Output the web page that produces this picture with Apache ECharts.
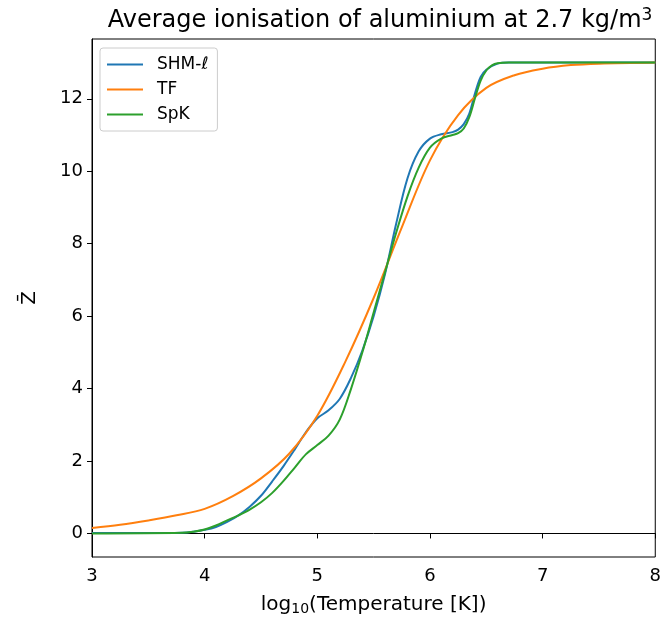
<!DOCTYPE html>
<html>
<head>
<meta charset="utf-8">
<script src="https://cdn.jsdelivr.net/npm/echarts@6/dist/echarts.min.js"></script>
<style>html,body{margin:0;padding:0;background:#fff}#c{width:664px;height:621px}</style>
</head>
<body>
<div id="c"></div>
<script>
const titleText = 'Average ionisation of aluminium at 2.7 kg/m{sup|3}';
const xLabel = 'log{sub|10}(Temperature [K])';
const yLabel = 'Z̄';
const seriesNames = ['SHM-ℓ', 'TF', 'SpK'];
const xTicks = [3, 4, 5, 6, 7, 8];
const yTicks = [0, 2, 4, 6, 8, 10, 12];

const shmX = [3.0, 3.5, 3.8, 3.9, 4.0, 4.1, 4.2, 4.3, 4.4, 4.5, 4.6, 4.7, 4.8, 4.9, 5.0, 5.1, 5.2, 5.3, 5.4, 5.5, 5.6, 5.7, 5.8, 5.9, 6.0, 6.1, 6.2, 6.25, 6.3, 6.35, 6.4, 6.45, 6.5, 6.6, 6.7, 7.0, 8.0];
const shmY = [0.01, 0.01, 0.02, 0.05, 0.1, 0.18, 0.32, 0.5, 0.74, 1.04, 1.44, 1.86, 2.32, 2.8, 3.18, 3.4, 3.72, 4.3, 5.05, 6.0, 7.15, 8.55, 9.8, 10.55, 10.9, 11.02, 11.08, 11.15, 11.3, 11.6, 12.15, 12.6, 12.8, 12.97, 13.0, 13.0, 13.0];

const tfX = [3.0, 3.25, 3.5, 3.75, 4.0, 4.25, 4.5, 4.75, 5.0, 5.25, 5.5, 5.75, 6.0, 6.25, 6.5, 6.75, 7.0, 7.25, 7.5, 8.0];
const tfY = [0.15, 0.24, 0.36, 0.5, 0.68, 1.03, 1.52, 2.2, 3.25, 4.75, 6.5, 8.45, 10.3, 11.55, 12.3, 12.65, 12.83, 12.93, 12.97, 13.0];

const spkX = [3.0, 3.8, 3.9, 4.0, 4.1, 4.2, 4.3, 4.4, 4.5, 4.6, 4.7, 4.8, 4.9, 5.0, 5.1, 5.2, 5.3, 5.4, 5.5, 5.6, 5.7, 5.8, 5.9, 6.0, 6.1, 6.2, 6.25, 6.3, 6.35, 6.4, 6.45, 6.5, 6.55, 6.6, 6.7, 7.0, 8.0];
const spkY = [0.0, 0.02, 0.05, 0.11, 0.22, 0.36, 0.5, 0.66, 0.86, 1.12, 1.45, 1.82, 2.19, 2.44, 2.7, 3.15, 4.0, 5.0, 6.1, 7.2, 8.3, 9.3, 10.1, 10.65, 10.9, 11.0, 11.05, 11.18, 11.5, 12.02, 12.5, 12.78, 12.92, 12.98, 13.0, 13.0, 13.0];

const colors = ['#1f77b4', '#ff7f0e', '#2ca02c'];
const zip = (xs, ys) => xs.map((x, i) => [x, ys[i]]);
const FONT = 'DejaVu Sans';

const chart = echarts.init(document.getElementById('c'), null, {renderer: 'canvas'});
const mkSeries = (name, xs, ys, color) => ({
  name, type: 'line', data: zip(xs, ys), showSymbol: false, smooth: 0.35,
  lineStyle: {color, width: 2}, itemStyle: {color}, z: 2
});
chart.setOption({
  animation: false,
  backgroundColor: '#fff',
  title: {
    text: titleText, left: 375, top: 2, textAlign: 'center',
    textStyle: {
      fontFamily: FONT, fontSize: 24, fontWeight: 'normal', color: '#000',
      rich: {sup: {fontFamily: FONT, fontSize: 17, color: '#000', padding: [0, 0, 10, 0]}}
    }
  },
  grid: {left: 92, right: 6, top: 39, bottom: 62, show: true, borderColor: '#000', borderWidth: 1, backgroundColor: 'transparent'},
  legend: {
    orient: 'vertical', left: 100, top: 48, padding: [8, 9, 8, 7], itemGap: 8,
    itemWidth: 36, itemHeight: 2, icon: 'rect',
    backgroundColor: '#fff', borderColor: '#cccccc', borderWidth: 1, borderRadius: 3,
    textStyle: {fontFamily: FONT, fontSize: 17, color: '#000', padding: [0, 0, 0, 9]},
    data: seriesNames
  },
  xAxis: {
    type: 'value', min: 3, max: 8, interval: 1,
    name: xLabel, nameLocation: 'middle', nameGap: 37,
    nameTextStyle: {
      fontFamily: FONT, fontSize: 20, color: '#000',
      rich: {sub: {fontFamily: FONT, fontSize: 14, color: '#000', padding: [8, 0, 0, 0]}}
    },
    axisLine: {show: true, lineStyle: {color: '#000', width: 1}},
    axisTick: {show: true, length: 5, lineStyle: {color: '#000'}},
    axisLabel: {fontFamily: FONT, fontSize: 18, color: '#000', margin: 10, formatter: v => xTicks.includes(v) ? String(v) : ''},
    splitLine: {show: false}
  },
  yAxis: {
    type: 'value', min: -0.65, max: 13.65,
    name: yLabel, nameLocation: 'middle', nameGap: 52, nameRotate: 90,
    nameTextStyle: {fontFamily: FONT, fontSize: 20, color: '#000'},
    axisLine: {show: true, lineStyle: {color: '#000', width: 1}},
    axisTick: {show: true, length: 5, lineStyle: {color: '#000'}, customValues: yTicks},
    axisLabel: {fontFamily: FONT, fontSize: 18, color: '#000', margin: 9, customValues: yTicks},
    splitLine: {show: false}
  },
  series: [
    mkSeries(seriesNames[0], shmX, shmY, colors[0]),
    mkSeries(seriesNames[1], tfX, tfY, colors[1]),
    mkSeries(seriesNames[2], spkX, spkY, colors[2])
  ]
});
</script>
</body>
</html>
